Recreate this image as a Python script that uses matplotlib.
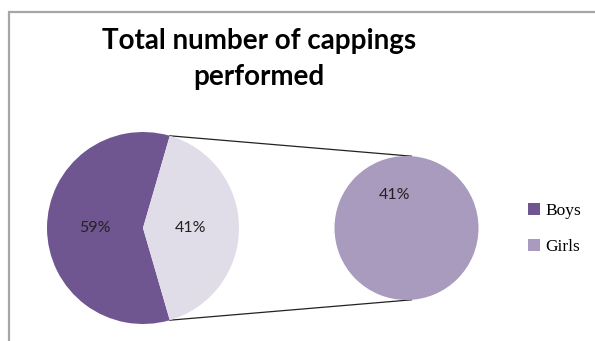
import numpy as np
import matplotlib.pyplot as plt
from matplotlib.patches import Patch

# ----------------------------
# Data
# ----------------------------
categories = ["Boys", "Girls"]
shares = [59, 41]
colors = ["#6F5690", "#A99BBE"]
other_color = "#E0DDE8"

W, H = 595, 341

fig = plt.figure(figsize=(W / 100, H / 100), dpi=100)
ax = fig.add_axes([0, 0, 1, 1])

# ----------------------------
# Chart frame (left + top edges)
# ----------------------------
ax.plot([8.5, 8.5, W], [0, H - 11.5, H - 11.5], color="#A6A6A6", lw=1.6,
        solid_joinstyle="miter", zorder=1)

# ----------------------------
# Main pie: Boys + aggregated Girls
# ----------------------------
c1, r1 = (143, 113), 96
start = shares[1] / 100 * 360 / 2
wedges, _, autotexts = ax.pie(
    shares,
    colors=[colors[0], other_color],
    startangle=start,
    center=c1,
    radius=r1,
    autopct=lambda p: f"{p:.0f}%",
    pctdistance=0.5,
    wedgeprops=dict(linewidth=0),
    textprops=dict(fontsize=11.5, family="Lato", color="#222222"),
    frame=True,
)

# ----------------------------
# Secondary pie: Girls breakdown
# ----------------------------
c2, r2 = (406.5, 113), 72
ax.pie([shares[1]], colors=[colors[1]], center=c2, radius=r2,
       wedgeprops=dict(linewidth=0), frame=True)
ax.text(c2[0] - 11.5, c2[1] + 33, f"{shares[1]}%", ha="center", va="center",
        fontsize=11.5, family="Lato", color="#222222")

# connector lines between the two pies
for sgn in (1, -1):
    a1 = np.deg2rad(sgn * start)
    a2 = np.deg2rad(sgn * 86)
    ax.plot([c1[0] + r1 * np.cos(a1), c2[0] + r2 * np.cos(a2)],
            [c1[1] + r1 * np.sin(a1), c2[1] + r2 * np.sin(a2)],
            color="#222222", lw=0.9, zorder=0)

ax.set_xlim(0, W)
ax.set_ylim(0, H)
ax.set_aspect("equal")
ax.axis("off")

# ----------------------------
# Title
# ----------------------------
fig.text(259 / W, 1 - 59 / H, "Total number of cappings\nperformed",
         ha="center", va="center", fontsize=20, fontweight="bold",
         family="Lato", linespacing=1.5)

# ----------------------------
# Legend
# ----------------------------
handles = [Patch(facecolor=c, edgecolor="none") for c in colors]
ax.legend(handles, categories, loc="center left",
          bbox_to_anchor=(512 / W, 1 - 229 / H), frameon=False,
          handlelength=0.7, handleheight=0.7, handletextpad=0.3,
          labelspacing=1.15, prop=dict(family="Liberation Serif", size=12.5))

fig.savefig("out.png", dpi=100)
